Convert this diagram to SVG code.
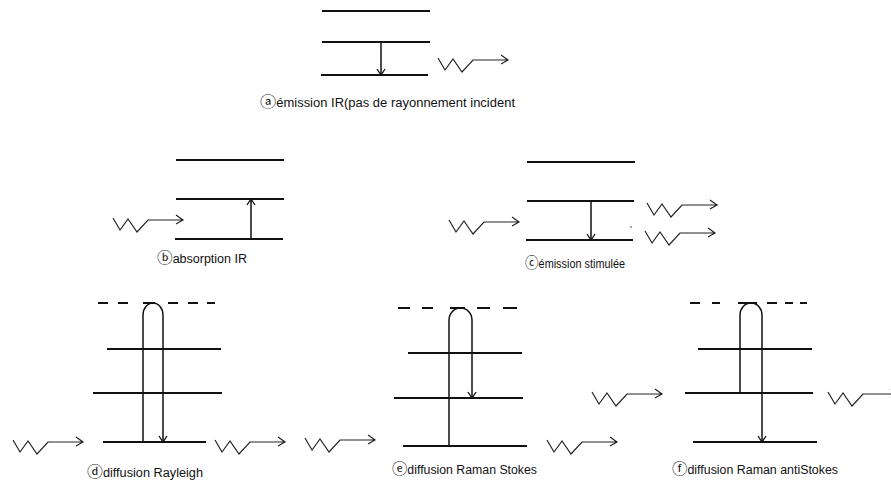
<svg xmlns="http://www.w3.org/2000/svg" xmlns:xlink="http://www.w3.org/1999/xlink" width="891" height="481" viewBox="0 0 891 481">
<style>
.lvl{stroke:#111;stroke-width:2;fill:none}
.dash{stroke:#111;stroke-width:2;fill:none}
.tr{stroke:#111;stroke-width:1.5;fill:none}
.wv{stroke:#222;stroke-width:1.2;fill:none;stroke-linejoin:miter}
.lbl{font-family:"Liberation Sans","DejaVu Sans","Noto Sans CJK SC",sans-serif;font-size:12px;fill:#111}
.cl{font-family:"Noto Sans CJK SC","DejaVu Sans",sans-serif;font-size:15px}
</style>
<defs>
<marker id="ah" markerUnits="userSpaceOnUse" markerWidth="12" markerHeight="12" viewBox="-8 -6 10 12" refX="0" refY="0" orient="auto">
<path d="M-6,-4 L0,0 L-6,4" fill="none" stroke="#111" stroke-width="1.3"/>
</marker>
<path id="wave" d="M0,-2 L7,10 L15,-1 L24,12 L35,0 H70 M63,-5 L70,0 L63,4"/>
</defs>
<rect width="891" height="481" fill="#fff"/>
<g id="panel-a">
<path class="lvl" d="M322,11 H430 M322,42 H430 M321,75 H428"/>
<text class="lbl" x="260" y="107" textLength="255" lengthAdjust="spacingAndGlyphs"><tspan class="cl">ⓐ</tspan>émission IR(pas de rayonnement incident</text>
</g>
<g id="panel-b">
<path class="lvl" d="M176,160 H284 M176,199 H284 M175,239 H283"/>
<text class="lbl" x="157" y="263" textLength="90" lengthAdjust="spacingAndGlyphs"><tspan class="cl">ⓑ</tspan>absorption IR</text>
</g>
<g id="panel-c">
<path class="lvl" d="M527,162 H635 M527,201 H634 M526,240 H633"/>
<circle cx="631" cy="227" r="0.8" fill="#333"/>
<text class="lbl" x="525" y="268" textLength="100" lengthAdjust="spacingAndGlyphs"><tspan class="cl">ⓒ</tspan>émission stimulée</text>
</g>
<g id="panel-d">
<path class="dash" d="M98,303 H108 M118,303 H128 M143,303 H155 M168,303 H178 M188,303 H198 M207,303 H215"/>
<path class="lvl" d="M107,349 H221 M93,393 H222 M103,442 H206"/>
<text class="lbl" x="87" y="477" textLength="116" lengthAdjust="spacingAndGlyphs"><tspan class="cl">ⓓ</tspan>diffusion Rayleigh</text>
</g>
<g id="panel-e">
<path class="dash" d="M398,308 H410 M422,308 H433 M450,308 H465 M477,308 H490 M503,308 H517"/>
<path class="lvl" d="M408,353 H522 M394,398 H523 M403,446 H527"/>
<text class="lbl" x="392" y="474" textLength="145" lengthAdjust="spacingAndGlyphs"><tspan class="cl">ⓔ</tspan>diffusion Raman Stokes</text>
</g>
<g id="panel-f">
<path class="dash" d="M690,303 H700 M712,303 H720 M738,303 H757 M767,303 H777 M785,303 H793 M800,303 H807"/>
<path class="lvl" d="M698,349 H812 M685,393 H813 M693,442 H817"/>
<text class="lbl" x="672" y="474" textLength="166" lengthAdjust="spacingAndGlyphs"><tspan class="cl">ⓕ</tspan>diffusion Raman antiStokes</text>
</g>
<g id="connectors">
<path class="tr" d="M381,42 V75" marker-end="url(#ah)"/>
<path class="tr" d="M251,239 V199" marker-end="url(#ah)"/>
<path class="tr" d="M591,201 V240" marker-end="url(#ah)"/>
<path class="tr" d="M143,442 V315 A10,12 0 0 1 163,315 V442" marker-end="url(#ah)"/>
<path class="tr" d="M449,446 V320 A11.5,12 0 0 1 472,320 V398" marker-end="url(#ah)"/>
<path class="tr" d="M740,393 V315 A11,12 0 0 1 762,315 V442" marker-end="url(#ah)"/>
<use href="#wave" xlink:href="#wave" class="wv" x="438" y="60"/>
<use href="#wave" xlink:href="#wave" class="wv" x="113" y="220"/>
<use href="#wave" xlink:href="#wave" class="wv" x="449" y="222"/>
<use href="#wave" xlink:href="#wave" class="wv" x="647" y="205"/>
<use href="#wave" xlink:href="#wave" class="wv" x="645" y="233"/>
<use href="#wave" xlink:href="#wave" class="wv" x="13" y="442"/>
<use href="#wave" xlink:href="#wave" class="wv" x="215" y="442"/>
<use href="#wave" xlink:href="#wave" class="wv" x="305" y="440"/>
<use href="#wave" xlink:href="#wave" class="wv" x="547" y="442"/>
<use href="#wave" xlink:href="#wave" class="wv" x="592" y="394"/>
<use href="#wave" xlink:href="#wave" class="wv" x="828" y="394"/>
</g>
</svg>
